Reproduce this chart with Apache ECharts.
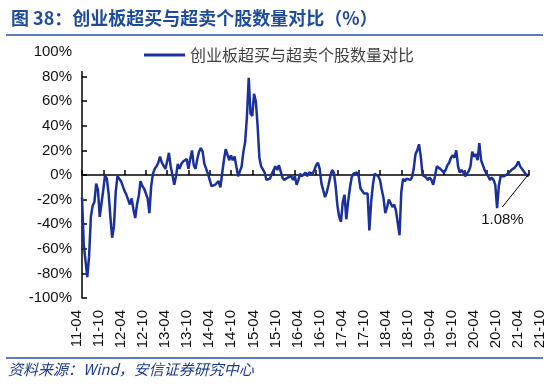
<!DOCTYPE html>
<html>
<head>
<meta charset="utf-8">
<script src="https://cdn.jsdelivr.net/npm/echarts@6/dist/echarts.min.js"></script>
<style>html,body{margin:0;padding:0;background:#fff;}#chart{width:550px;height:387px;}</style>
</head>
<body>
<div id="chart"></div>
<script>
// ---- data ----
var seriesName = '创业板超买与超卖个股数量对比';
var titleText = '图 38：创业板超买与超卖个股数量对比（%）';
var sourceText = '资料来源：Wind，安信证券研究中心';
var tickLabels = ['11-04','11-10','12-04','12-10','13-04','13-10','14-04','14-10','15-04','15-10','16-04','16-10','17-04','17-10','18-04','18-10','19-04','19-10','20-04','20-10','21-04','21-10'];
// semi-monthly periods from 2011-04 to 2021-10
var categories = [];
(function(){
  var y = 2011, m = 4;
  while (true) {
    var lab = String(y).slice(2) + '-' + (m < 10 ? '0' + m : m);
    categories.push(lab + 'a');
    if (y === 2021 && m === 10) break;
    categories.push(lab + 'b');
    m++; if (m > 12) { m = 1; y++; }
  }
})();
var values = [
 -18,-57,-70,-83,-66,-34,-25,-22,-7,-12,
 -34,-33,-12,0,-3,-15,-34,-51,-42,-14,
 -1,-1,-5,-9,-13,-16,-20,-24,-19,-28,
 -35,-24,-17,-5,-9,-11,-12,-19,-31,-9,
 1,5,7,10,15,10,9,5,11,18,
 7,0,-8,-1,9,5,9,11,12,13,
 5,13,20,8,5,13,19,22,19,9,
 5,1,-4,-9,-10,-8,-9,-5,-10,1,
 12,21,22,12,16,12,15,7,-1,3,
 7,19,27,48,79,50,48,66,60,40,
 14,7,6,2,-4,-3,-3,1,0,7,
 4,8,3,-2,-4,-3,-2,-3,-1,-4,
 -1,-8,-4,1,-1,-1,2,-1,2,1,
 1,4,8,10,5,-7,-7,-18,-14,-8,
 -1,4,2,-9,-25,-34,-38,-22,-16,-36,
 -22,-11,-2,1,1,2,-1,-11,-13,-15,
 -16,-15,-45,-22,-8,1,1,-1,-4,-12,
 -19,-31,-26,-20,-19,-26,-24,-29,-28,-49,
 -14,-3,-5,-3,-4,-4,-2,5,17,20,
 25,15,0,0,-2,-4,-2,-4,-8,-1,
 7,8,5,4,2,4,8,10,14,16,
 14,20,7,2,4,2,-1,-1,3,7,
 19,15,17,12,26,12,8,4,1,-1,
 -4,-2,-4,-8,-27,-9,-1,-2,-1,-1,
 1,2,4,5,6,8,11,7,5,4,
 1,-1,1.08
];
var annotAnchor = [237, -26]; // label anchor (category index, value)

var lineColor = '#1B3199';
var chart = echarts.init(document.getElementById('chart'), null, {renderer: 'canvas'});
var last = values.length - 1;
var option = {
  animation: false,
  backgroundColor: '#fff',
  title: {
    text: titleText, left: 6, top: 4,
    textStyle: {fontFamily: 'Noto Sans CJK SC', fontSize: 18, fontWeight: 'bold', color: '#1E4C9A'}
  },
  graphic: [
    {type: 'line', shape: {x1: 6, y1: 35, x2: 543, y2: 35}, style: {stroke: '#5A7DBE', lineWidth: 2}},
    {type: 'line', shape: {x1: 6, y1: 358, x2: 543, y2: 358}, style: {stroke: '#5A7DBE', lineWidth: 2}},
    {type: 'text', left: 8, top: 362, style: {text: sourceText, font: 'italic 15px "Noto Sans CJK SC"', fill: '#1F3B8C'}}
  ],
  legend: {
    left: 77, top: 41,
    padding: [6, 125, 8, 67],
    backgroundColor: '#fff',
    icon: 'rect', itemWidth: 41, itemHeight: 3, itemGap: 7,
    textStyle: {fontFamily: 'Noto Sans CJK SC', fontSize: 16, color: '#404040'},
    data: [seriesName]
  },
  grid: [
    {left: 82, right: 21, top: 52, bottom: 89},
    {left: 77, right: 10, top: 52, bottom: 89}
  ],
  xAxis: [
    {
      gridIndex: 0, type: 'category', data: categories, boundaryGap: false,
      axisLine: {onZero: true, lineStyle: {color: '#000', width: 1.5}},
      axisTick: {inside: true, length: 5, interval: 11, lineStyle: {color: '#000', width: 1.5}},
      axisLabel: {show: false}, splitLine: {show: false}
    },
    {
      gridIndex: 1, type: 'category', data: tickLabels, boundaryGap: false, position: 'bottom',
      axisLine: {show: false, onZero: false}, axisTick: {show: false},
      axisLabel: {interval: 0, rotate: 90, margin: 12, fontFamily: 'Liberation Sans', fontSize: 15, color: '#111'},
      splitLine: {show: false}
    }
  ],
  yAxis: [
    {
      gridIndex: 0, type: 'value', min: -100, max: 100, interval: 20,
      axisLine: {show: true, lineStyle: {color: '#000', width: 1.5}},
      axisTick: {show: true, inside: true, length: 5, lineStyle: {color: '#000', width: 1.5}},
      axisLabel: {formatter: '{value}%', margin: 10, fontFamily: 'Liberation Sans', fontSize: 15, color: '#111'},
      splitLine: {show: false}
    },
    {gridIndex: 1, type: 'value', min: -100, max: 100, show: false}
  ],
  series: [{
    name: seriesName, type: 'line', xAxisIndex: 0, yAxisIndex: 0,
    data: values, symbol: 'none', showSymbol: false,
    lineStyle: {color: lineColor, width: 2.5}, itemStyle: {color: lineColor},
    markLine: {
      silent: true, symbol: ['none', 'none'],
      lineStyle: {color: '#000', width: 1, type: 'solid'},
      label: {show: false},
      data: [[{coord: [categories[last], values[last]]}, {coord: [categories[annotAnchor[0]], annotAnchor[1]]}]]
    },
    markPoint: {
      silent: true, symbol: 'circle', symbolSize: 1, itemStyle: {color: 'rgba(0,0,0,0)'},
      label: {show: true, position: 'bottom', distance: 5, formatter: values[last].toFixed(2) + '%',
        fontFamily: 'Liberation Sans', fontSize: 15, color: '#111'},
      data: [{coord: [categories[annotAnchor[0]], annotAnchor[1]]}]
    }
  }]
};
chart.setOption(option);
</script>
</body>
</html>
